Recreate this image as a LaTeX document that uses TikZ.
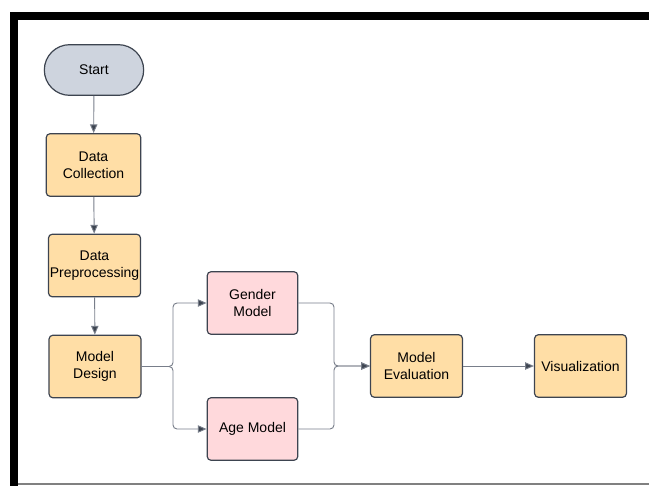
\documentclass[tikz,border=0pt]{standalone}
\usepackage{fontspec}
\setmainfont{Liberation Sans}
\usepackage{xcolor}
\usetikzlibrary{arrows.meta, positioning, shapes.misc}
\definecolor{stepcolor}{RGB}{255,222,166}
\definecolor{modelcolor}{RGB}{255,217,220}
\definecolor{startcolor}{RGB}{206,212,222}
\definecolor{edgecolor}{RGB}{61,68,80}
\definecolor{linkcolor}{RGB}{120,126,138}

\begin{document}
\begin{tikzpicture}[
    x=0.75pt, y=-0.75pt,
    every node/.style={font=\fontsize{10.5}{12.5}\selectfont, align=center, inner sep=1pt},
    terminal/.style={draw=edgecolor, line width=0.9pt, fill=startcolor, rounded rectangle, minimum width=76.5pt, minimum height=38pt},
    process/.style={draw=edgecolor, line width=0.9pt, fill=stepcolor, minimum width=69pt, minimum height=47pt, rounded corners=3pt},
    submodel/.style={draw=edgecolor, line width=0.9pt, fill=modelcolor, minimum width=68pt, minimum height=47pt, rounded corners=3pt},
    flow/.style={draw=linkcolor, line width=0.7pt, rounded corners=3pt, -{Triangle[length=6.5pt, width=5.5pt, fill=edgecolor]}}
]
    \useasboundingbox (0,0) rectangle (649,486);

    % frame
    \fill[black] (10,12) rectangle (649,20);
    \fill[black] (10,12) rectangle (18,486);
    \draw[gray, line width=0.8pt] (18,484) -- (649,484);

    % main column
    \node[terminal] (start) at (94,70) {Start};
    \node[process, minimum width=71pt] (collect) at (93.5,165) {Data\\Collection};
    \node[process] (prep) at (94.5,265.5) {Data\\Preprocessing};
    \node[process] (design) at (95,366.5) {Model\\Design};

    % the two models
    \node[submodel] (gender) at (252.5,303) {Gender\\Model};
    \node[submodel] (age) at (252.5,429) {Age Model};

    % evaluation and output
    \node[process] (eval) at (416.5,366) {Model\\Evaluation};
    \node[process] (visual) at (580.5,366) {Visualization};

    \coordinate (split) at (173,366.5);
    \coordinate (merge) at (334,366);

    \draw[flow] (start) -- (collect);
    \draw[flow] (collect) -- (prep);
    \draw[flow] (prep) -- (design);

    \draw[flow] (design.east) -- (split) |- (gender.west);
    \draw[flow] (design.east) -- (split) |- (age.west);
    \draw[flow] (gender.east) -| (merge) -- (eval.west);
    \draw[flow] (age.east) -| (merge) -- (eval.west);

    \draw[flow] (eval) -- (visual);
\end{tikzpicture}
\end{document}
